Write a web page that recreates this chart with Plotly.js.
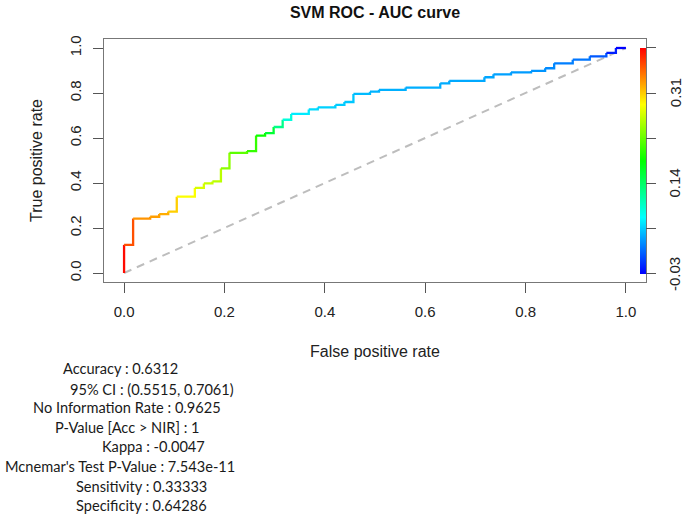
<!DOCTYPE html>
<html>
<head>
<meta charset="utf-8">
<script src="https://cdn.plot.ly/plotly-3.0.1.min.js"></script>
<style>html,body{margin:0;padding:0;background:#fff;}#chart{width:685px;height:517px;}</style>
</head>
<body>
<div id="chart"></div>
<script>
// ROC curve points (false positive rate, true positive rate) and the cutoff at each point
const fpr = [0, 0, 0.018, 0.052, 0.070, 0.088, 0.105, 0.141, 0.159, 0.176, 0.193, 0.210, 0.245, 0.263, 0.281, 0.298, 0.316, 0.333, 0.368, 0.386, 0.421, 0.439, 0.457, 0.490, 0.508, 0.561, 0.630, 0.648, 0.718, 0.736, 0.771, 0.811, 0.839, 0.857, 0.894, 0.928, 0.961, 0.980, 1.0];
const tpr = [0, 0.125, 0.242, 0.250, 0.262, 0.273, 0.339, 0.378, 0.398, 0.407, 0.465, 0.534, 0.542, 0.611, 0.622, 0.649, 0.681, 0.707, 0.727, 0.736, 0.747, 0.760, 0.796, 0.806, 0.814, 0.824, 0.843, 0.854, 0.870, 0.883, 0.892, 0.898, 0.910, 0.932, 0.948, 0.963, 0.978, 1.0, 1.0];
const cutoff = [0.395, 0.387, 0.336, 0.331, 0.327, 0.319, 0.299, 0.276, 0.268, 0.263, 0.257, 0.225, 0.217, 0.191, 0.183, 0.140, 0.110, 0.072, 0.064, 0.059, 0.055, 0.055, 0.051, 0.045, 0.044, 0.043, 0.042, 0.041, 0.040, 0.038, 0.036, 0.034, 0.030, 0.025, 0.021, 0.017, -0.004, -0.030, -0.030];
const cutoffRange = [-0.03, 0.395];
const cbTickVals = [-0.03, 0.055, 0.14, 0.225, 0.31, 0.395];
const cbTickText = ["-0.03", "", "0.14", "", "0.31", ""];
const axisTicks = [0, 0.2, 0.4, 0.6, 0.8, 1.0];
const axisTickText = ["0.0", "0.2", "0.4", "0.6", "0.8", "1.0"];
const diagX = [0, 1];
const diagY = [0, 1];
const statNames = ["Accuracy", "95% CI", "No Information Rate", "P-Value [Acc &gt; NIR]", "Kappa", "Mcnemar's Test P-Value", "Sensitivity", "Specificity"];
const statValues = ["0.6312", "(0.5515, 0.7061)", "0.9625", "1", "-0.0047", "7.543e-11", "0.33333", "0.64286"];

// rainbow colour scale (blue -> red) as used by ROCR colorize
const colorscale = [[0, 'rgb(0,0,255)'], [0.25, 'rgb(0,255,255)'], [0.5, 'rgb(0,255,0)'], [0.75, 'rgb(255,255,0)'], [1, 'rgb(255,0,0)']];
function scaleColor(v) {
  let t = (v - cutoffRange[0]) / (cutoffRange[1] - cutoffRange[0]);
  t = Math.max(0, Math.min(1, t));
  for (let i = 1; i < colorscale.length; i++) {
    if (t <= colorscale[i][0]) {
      const a = colorscale[i - 1], b = colorscale[i];
      const f = (t - a[0]) / (b[0] - a[0]);
      const ca = a[1].match(/\d+/g).map(Number), cb = b[1].match(/\d+/g).map(Number);
      const c = ca.map((x, k) => Math.round(x + (cb[k] - x) * f));
      return 'rgb(' + c.join(',') + ')';
    }
  }
  return colorscale[colorscale.length - 1][1];
}

const traces = [];
traces.push({
  x: diagX, y: diagY, mode: 'lines', type: 'scatter', hoverinfo: 'skip',
  line: {color: '#bdbdbd', width: 2, dash: '8px,6px'}
});
for (let i = 1; i < fpr.length; i++) {
  traces.push({
    x: [fpr[i - 1], fpr[i]], y: [tpr[i - 1], tpr[i]], mode: 'lines', type: 'scatter',
    line: {shape: 'hv', width: 2.3, color: scaleColor((cutoff[i - 1] + cutoff[i]) / 2)},
    hoverinfo: 'skip'
  });
}
traces.push({
  x: fpr, y: tpr, mode: 'markers', type: 'scatter', hoverinfo: 'skip',
  marker: {
    size: 1, opacity: 0, color: cutoff, colorscale: colorscale,
    cmin: cutoffRange[0], cmax: cutoffRange[1], showscale: true,
    colorbar: {
      thickness: 6, thicknessmode: 'pixels', len: 0.93, lenmode: 'fraction',
      x: 0.989, xanchor: 'left', xref: 'paper', y: 0.033, yanchor: 'bottom', yref: 'paper',
      xpad: 0, ypad: 0, outlinewidth: 0,
      ticks: 'outside', ticklen: 10, tickwidth: 1, tickcolor: '#555',
      tickvals: cbTickVals, ticktext: cbTickText.map(() => ''), tickangle: -90,
      tickfont: {family: 'Liberation Sans, Arial, sans-serif', size: 15, color: '#222'}
    }
  }
});

const L = 104, T = 39, W = 542, H = 243;
function px2x(p) { return (p - L) / W; }
function px2y(p) { return (T + H - p) / H; }
const statLeft = [61, 68, 31, 53, 100, 3, 74, 74];
const statMid = [368.3, 389.3, 407.8, 427.3, 446.7, 466.7, 486.7, 505.3];
const annotations = statNames.map((n, i) => ({
  text: n + ' : ' + statValues[i], xref: 'paper', yref: 'paper',
  x: px2x(statLeft[i]), y: px2y(statMid[i]), xanchor: 'left', yanchor: 'middle',
  showarrow: false, font: {family: 'Lato, sans-serif', size: 14.6, color: '#1a1a1a'}
}));
// colour bar tick labels (rotated, like R's axis on side 4)
cbTickVals.forEach((v, i) => {
  if (!cbTickText[i]) return;
  const frac = (v - cutoffRange[0]) / (cutoffRange[1] - cutoffRange[0]);
  annotations.push({
    text: cbTickText[i], xref: 'paper', yref: 'paper',
    x: px2x(675), y: 0.033 + 0.93 * frac, xanchor: 'center', yanchor: 'middle',
    textangle: -90, showarrow: false,
    font: {family: 'Liberation Sans, Arial, sans-serif', size: 15, color: '#222'}
  });
});

const axisCommon = {
  range: [-0.04, 1.04], tickvals: axisTicks, ticktext: axisTickText,
  showgrid: false, zeroline: false, ticks: 'outside', ticklen: 10, tickwidth: 1, tickcolor: '#555',
  showline: true, mirror: true, linecolor: '#777', linewidth: 1,
  tickfont: {family: 'Liberation Sans, Arial, sans-serif', size: 15, color: '#222'}
};
const layout = {
  width: 685, height: 517, showlegend: false,
  margin: {l: L, r: 685 - L - W, t: T, b: 517 - T - H, pad: 0},
  paper_bgcolor: '#fff', plot_bgcolor: '#fff',
  title: {text: '<b>SVM ROC - AUC curve</b>', x: 375 / 685, xanchor: 'center', y: 1 - 12 / 517, yanchor: 'middle',
    font: {family: 'Liberation Sans, Arial, sans-serif', size: 16, color: '#111'}},
  xaxis: Object.assign({}, axisCommon, {
    ticklabelstandoff: 6,
    title: {text: 'False positive rate', standoff: 26, font: {family: 'Liberation Sans, Arial, sans-serif', size: 16, color: '#222'}}
  }),
  yaxis: Object.assign({}, axisCommon, {
    tickangle: -90, ticklabelstandoff: 6,
    title: {text: 'True positive rate', standoff: 20, font: {family: 'Liberation Sans, Arial, sans-serif', size: 16, color: '#222'}}
  }),
  annotations: annotations
};
Plotly.newPlot('chart', traces, layout, {displayModeBar: false, staticPlot: true});
</script>
</body>
</html>
